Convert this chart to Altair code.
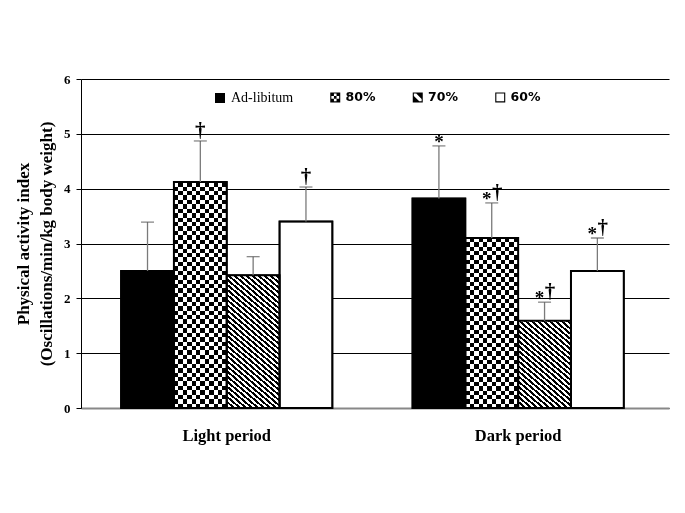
import altair as alt
import pandas as pd

# ---------------- data ----------------
periods = ["Light period", "Dark period"]
groups = ["Ad-libitum", "80%", "70%", "60%"]
light_mean = [2.50, 4.12, 2.42, 3.40]
dark_mean = [3.82, 3.10, 1.59, 2.50]
light_sd = [0.89, 0.75, 0.34, 0.63]
dark_sd = [0.96, 0.64, 0.34, 0.60]
light_notes = ["", "†", "", "†"]
dark_notes = ["*", "*†", "*†", "*†"]
y_ticks = [0, 1, 2, 3, 4, 5, 6]
y_title = ["Physical activity index", "(Oscillations/min/kg body weight)"]
bar_colors = ["black", "white", "white", "white"]

rows = []
for p, means, sds, notes in [
    (periods[0], light_mean, light_sd, light_notes),
    (periods[1], dark_mean, dark_sd, dark_notes),
]:
    for g, m, s, n in zip(groups, means, sds, notes):
        rows.append(
            {
                "period": p,
                "group": g,
                "mean": m,
                "upper": round(m + s, 3),
                "star": int("*" in n),
                "dagger": int("†" in n),
            }
        )
df = pd.DataFrame(rows)

# ---------------- layout / style ----------------
W, H = 588, 329
PI, PO, ALIGN = 0.275, 0.1464, 0.47
SERIF = "Liberation Serif"
SANS = "DejaVu Sans"
step = W / (len(periods) - PI + 2 * PO)
sub_w = step * (1 - PI) / len(groups)
CELL = 4.4       # checker cell size (px)
DIAG_P = 6.0     # horizontal period of diagonal hatch (px)
DIAG_M = 0.85    # slope of hatch lines


def stripes(n_periods, c0, c1, x1, y1, x2, y2, frac=0.5):
    stops = []
    k = 0
    while k < n_periods:
        a = min(k / n_periods, 1)
        b = min((k + frac) / n_periods, 1)
        c = min((k + 1) / n_periods, 1)
        stops += [
            {"offset": a, "color": c0},
            {"offset": b, "color": c0},
            {"offset": b, "color": c1},
            {"offset": c, "color": c1},
        ]
        k += 1
    return {"gradient": "linear", "x1": x1, "y1": y1, "x2": x2, "y2": y2, "stops": stops}


def diag_gradient(w, h, m=DIAG_M, p=DIAG_P):
    span = m * w + h
    s = span / (m * m * w * w + h * h)
    n = span / (m * p)
    return stripes(n, "black", "white", 0, 1, m * w * s, 1 - h * s, frac=0.5)


# legend symbol shapes (unit square -1..1): frame + pattern
FRAME = "M-1,-1H1V1H-1Z M-0.78,-0.78V0.78H0.78V-0.78Z"
c = 1.56 / 3


def cell(i, j):
    x0 = -0.78 + i * c
    y0 = -0.78 + j * c
    return f" M{x0:.3f},{y0:.3f}h{c:.3f}v{c:.3f}h{-c:.3f}Z"


SHAPE_80 = FRAME + "".join(cell(i, j) for i in range(3) for j in range(3) if (i + j) % 2 == 0)
SHAPE_70 = FRAME + " M-0.3,-0.78L0.78,-0.78L0.78,0.3Z M-0.78,-0.3L0.3,0.78L-0.78,0.78Z"
SHAPE_60 = FRAME

xscale = alt.Scale(domain=periods, paddingInner=PI, paddingOuter=PO, align=ALIGN)
xaxis = alt.Axis(
    ticks=False, grid=False, domainColor="#888888", domainWidth=2, labelAngle=0,
    labelFont=SERIF, labelFontSize=16.5, labelFontWeight="bold", labelColor="black",
    labelPadding=19,
)
yscale = alt.Scale(domain=[0, 6], nice=False)
yaxis = alt.Axis(
    values=y_ticks, grid=True, gridColor="black", gridWidth=1, domainColor="black",
    domainWidth=1, tickColor="black", tickSize=5, labelFont=SERIF, labelFontSize=13,
    labelFontWeight="bold", labelColor="black", labelPadding=6, titleFont=SERIF,
    titleFontSize=17, titleFontWeight="bold", titleColor="black", titlePadding=8,
    titleLineHeight=23,
)


def X():
    return alt.X("period:N", scale=xscale, axis=xaxis, title=None)


def XO():
    return alt.XOffset("group:N", scale=alt.Scale(domain=groups, paddingInner=0, paddingOuter=0))


def Y(field):
    return alt.Y(field + ":Q", scale=yscale, axis=yaxis, title=y_title)


base = alt.Chart(df)

bars = base.mark_bar(stroke="black", strokeWidth=1.5).encode(
    x=X(), xOffset=XO(), y=Y("mean"),
    color=alt.Color("group:N", scale=alt.Scale(domain=groups, range=bar_colors), legend=None),
)
layers = [bars]
for p in periods:
    m80 = float(df[(df.period == p) & (df.group == "80%")]["mean"].iloc[0])
    h80 = m80 / 6 * H
    n_cols = max(1, round(sub_w / CELL))
    n_rows = max(1, round(h80 / CELL))
    sel80 = base.transform_filter((alt.datum.period == p) & (alt.datum.group == "80%"))
    layers.append(sel80.mark_bar(fill=stripes(n_cols / 2, "black", "white", 0, 0, 1, 0)).encode(
        x=X(), xOffset=XO(), y=Y("mean")))
    layers.append(sel80.mark_bar(fill=stripes(n_rows / 2, "white", "black", 0, 0, 0, 1),
                                 blend="difference").encode(x=X(), xOffset=XO(), y=Y("mean")))
    m70 = float(df[(df.period == p) & (df.group == "70%")]["mean"].iloc[0])
    h70 = m70 / 6 * H
    sel70 = base.transform_filter((alt.datum.period == p) & (alt.datum.group == "70%"))
    layers.append(sel70.mark_bar(fill=diag_gradient(sub_w, h70)).encode(
        x=X(), xOffset=XO(), y=Y("mean")))

layers.append(base.mark_bar(fillOpacity=0, stroke="black", strokeWidth=2).encode(
    x=X(), xOffset=XO(), y=Y("mean")))
layers.append(base.mark_rule(color="#7a7a7a", strokeWidth=1.3).encode(
    x=X(), xOffset=XO(), y=Y("mean"), y2="upper:Q"))
layers.append(base.mark_tick(orient="horizontal", size=13, thickness=1.3, color="#555555").encode(
    x=X(), xOffset=XO(), y=Y("upper")))

txt = dict(font=SERIF, fontWeight="bold", color="black", baseline="alphabetic")
for star, dag, ch, fs, dx, dy in [
    (1, 0, "*", 19, 0, 2), (1, 1, "*", 19, -5, 2),
    (0, 1, "†", 21, 0, -4), (1, 1, "†", 21, 5.5, -4),
]:
    layers.append(
        base.transform_filter((alt.datum.star == star) & (alt.datum.dagger == dag))
        .mark_text(fontSize=fs, dx=dx, dy=dy, **txt)
        .encode(x=X(), xOffset=XO(), y=Y("upper"), text=alt.value(ch))
    )

# ---- legends (from invisible points) ----
common_leg = dict(
    orient="none", legendY=12, direction="horizontal", padding=0, symbolSize=100,
    symbolOpacity=1, labelColor="black", labelOffset=4, columnPadding=35.5, title=None,
)
leg_ad = base.transform_filter(alt.datum.group == groups[0]).mark_point(
    opacity=0, filled=True, color="black"
).encode(
    x=X(), xOffset=XO(), y=Y("mean"),
    fill=alt.Fill(
        "group:N",
        scale=alt.Scale(domain=groups[:1], range=["black"]),
        legend=alt.Legend(
            legendX=132, symbolType="square", symbolFillColor="black",
            symbolStrokeColor="black", symbolStrokeWidth=0, labelFont=SERIF,
            labelFontSize=14, labelFontWeight="normal", **common_leg,
        ),
    ),
)
leg_rest = base.transform_filter(alt.datum.group != groups[0]).mark_point(
    opacity=0, filled=True, color="black"
).encode(
    x=X(), xOffset=XO(), y=Y("mean"),
    shape=alt.Shape(
        "group:N",
        scale=alt.Scale(domain=groups[1:], range=[SHAPE_80, SHAPE_70, SHAPE_60]),
        legend=alt.Legend(
            legendX=248, symbolFillColor="black", symbolStrokeColor="black",
            symbolStrokeWidth=0, labelFont=SANS, labelFontSize=12.5,
            labelFontWeight="bold", **common_leg,
        ),
    ),
)
layers += [leg_ad, leg_rest]

chart = (
    alt.layer(*layers)
    .resolve_scale(color="independent", fill="independent", shape="independent")
    .properties(
        width=W, height=H,
        padding={"left": 6, "top": 65, "right": 5, "bottom": 5},
        background="white",
    )
    .configure_view(stroke=None)
)

chart.save("out.html", embed_options={"renderer": "svg", "actions": False})
